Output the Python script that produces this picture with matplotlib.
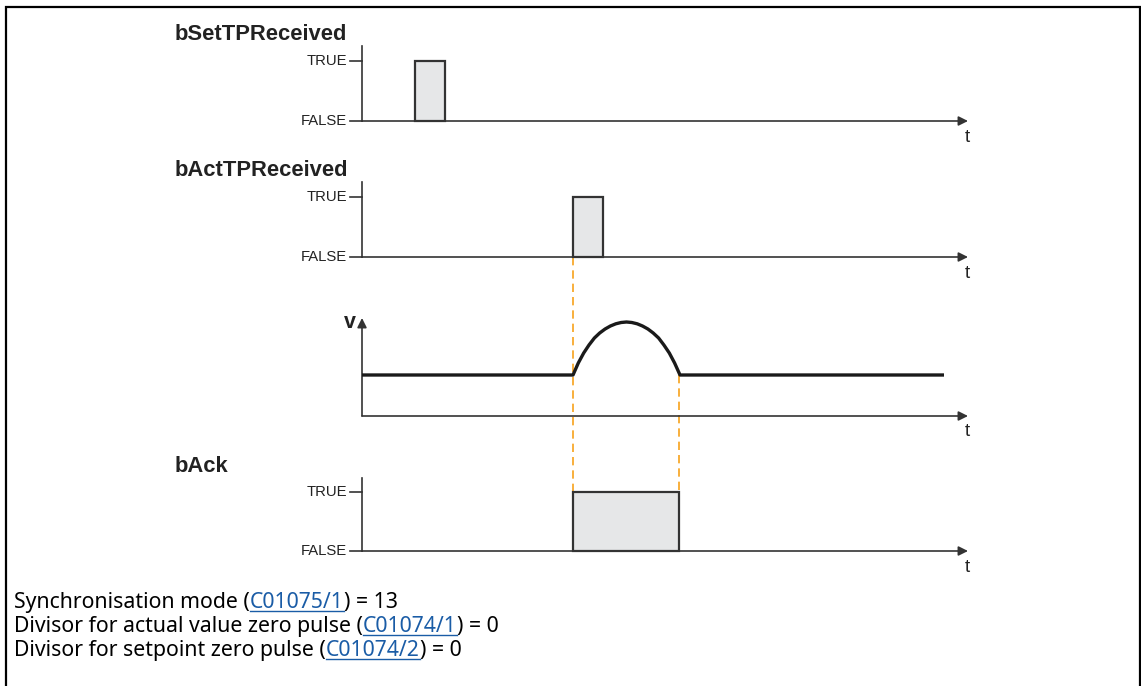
import matplotlib
matplotlib.use("Agg")
import matplotlib.pyplot as plt
from matplotlib.patches import Rectangle

# Canvas in pixel units of the reference drawing
W, H = 1141, 686

# Digital signals: name, y of TRUE level, y of FALSE level, top of axis
dig_names = ["bSetTPReceived", "bActTPReceived", "bAck"]
dig_true_y = [61, 197, 492]
dig_false_y = [121, 257, 551]
dig_top_y = [46, 182, 478]
# pulse (start, end) on the time axis for each digital signal
dig_pulses = [(415, 445), (573, 603), (573, 679)]
level_labels = ["TRUE", "FALSE"]

# Analog signal v: time axis, baseline, profile of the hump
v_name = "v"
v_axis_y = 416
v_top_y = 318
v_base_y = 375
v_end_x = 944
v_t = [573, 578.3, 583.7, 589, 594.4, 599.7, 605.1, 610.4, 615.8, 621.1, 626.5,
       631.8, 637.2, 642.5, 647.9, 653.2, 658.6, 663.9, 669.3, 674.6, 680]
v_y = [375, 363, 353, 345, 338, 333, 329, 326, 323.8, 322.5, 322,
       322.5, 323.8, 326, 329, 333, 338, 345, 353, 363, 375]

# Time axis extent
t0_x = 362
t_end_x = 968

# Dashed markers (x, y from, y to)
marks_x = [573, 679]
marks_y0 = [257, 375]
marks_y1 = [492, 492]

# Footer text lines: (text, is_link)
footer = [
    [("Synchronisation mode (", False), ("C01075/1", True), (") = 13", False)],
    [("Divisor for actual value zero pulse (", False), ("C01074/1", True), (") = 0", False)],
    [("Divisor for setpoint zero pulse (", False), ("C01074/2", True), (") = 0", False)],
]
footer_y = [608, 632, 656]

LINE = "#333333"
FILL = "#e6e7e8"
ORANGE = "#f7a21b"
LINK = "#1a5ca6"

fig = plt.figure(figsize=(W / 100, H / 100), dpi=100)
ax = fig.add_axes([0, 0, 1, 1])
ax.set_xlim(0, W)
ax.set_ylim(H, 0)
ax.axis("off")

# frame (open at bottom)
ax.plot([5.5, 5.5, 1139.5, 1139.5], [H, 6.5, 6.5, H], color="black", lw=1.6,
        solid_joinstyle="miter")


def time_axis(y, top, arrow_up=False):
    # vertical axis
    if arrow_up:
        ax.annotate("", xy=(t0_x, top), xytext=(t0_x, y),
                    arrowprops=dict(arrowstyle="-|>", color=LINE, lw=1.2,
                                    mutation_scale=14, shrinkA=0, shrinkB=0))
    else:
        ax.plot([t0_x, t0_x], [top, y], color=LINE, lw=1.2)
    # horizontal time axis with arrow
    ax.annotate("", xy=(t_end_x, y), xytext=(t0_x, y),
                arrowprops=dict(arrowstyle="-|>", color=LINE, lw=1.2,
                                mutation_scale=14, shrinkA=0, shrinkB=0))
    ax.text(t_end_x - 1, y + 16, "t", fontsize=13.5, family="Liberation Sans",
            color="#222222", ha="center", va="center")


# digital panels
for name, ty, fy, top, (p0, p1) in zip(dig_names, dig_true_y, dig_false_y,
                                       dig_top_y, dig_pulses):
    time_axis(fy, top)
    ax.text(175, top - 11, name, fontsize=15.8, fontweight="bold",
            family="Liberation Sans", color="#222222", va="center")
    for lab, ly in zip(level_labels, [ty, fy]):
        ax.plot([350, t0_x], [ly, ly], color=LINE, lw=1.2)
        ax.text(347, ly, lab, fontsize=10.7, family="Liberation Sans",
                color="#222222", ha="right", va="center")
    ax.add_patch(Rectangle((p0, ty), p1 - p0, fy - ty, facecolor=FILL,
                           edgecolor=LINE, lw=1.6, zorder=3))

# analog panel v
time_axis(v_axis_y, v_top_y, arrow_up=True)
ax.text(350, v_top_y + 5, v_name, fontsize=15.5, fontweight="bold",
        family="Liberation Sans", color="#222222", ha="center", va="center")
ax.plot([t0_x] + v_t + [v_end_x], [v_base_y] + v_y + [v_base_y],
        color="#1a1a1a", lw=2.4, solid_capstyle="butt", solid_joinstyle="round",
        zorder=3)

# dashed markers
for mx, y0, y1 in zip(marks_x, marks_y0, marks_y1):
    ax.plot([mx, mx], [y0, y1], color=ORANGE, lw=1.2, ls=(0, (5, 3)), zorder=2)

# footer with underlined links
fig.canvas.draw()
renderer = fig.canvas.get_renderer()
for parts, y in zip(footer, footer_y):
    x = 14
    for s, link in parts:
        t = ax.text(x, y, s, fontsize=15.3, family="Noto Sans",
                    color=LINK if link else "black", va="baseline")
        w = t.get_window_extent(renderer).width
        if link:
            ax.plot([x, x + w], [y + 3, y + 3], color=LINK, lw=1)
        x += w

fig.savefig("out.png", dpi=100)
